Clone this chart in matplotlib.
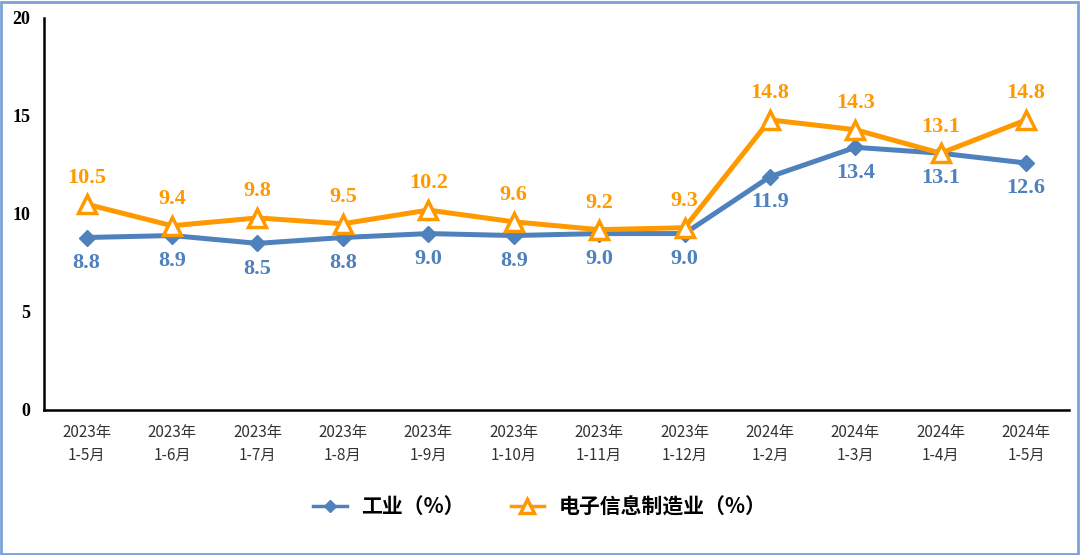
import matplotlib.pyplot as plt
from matplotlib.patches import Rectangle

plt.rcParams['font.family'] = ['Noto Sans CJK SC', 'DejaVu Sans']

CATEGORIES = ['2023年\n1-5月', '2023年\n1-6月', '2023年\n1-7月', '2023年\n1-8月',
              '2023年\n1-9月', '2023年\n1-10月', '2023年\n1-11月', '2023年\n1-12月',
              '2024年\n1-2月', '2024年\n1-3月', '2024年\n1-4月', '2024年\n1-5月']
INDUSTRY = [8.8, 8.9, 8.5, 8.8, 9.0, 8.9, 9.0, 9.0, 11.9, 13.4, 13.1, 12.6]
ELECTRONICS = [10.5, 9.4, 9.8, 9.5, 10.2, 9.6, 9.2, 9.3, 14.8, 14.3, 13.1, 14.8]
Y_TICKS = [0, 5, 10, 15, 20]

BLUE = '#4F81BD'
ORANGE = '#FF9900'
NUM_FONT = 'Liberation Serif'

fig = plt.figure(figsize=(10.8, 5.55), dpi=100)
ax = fig.add_axes([0.0407, 0.2613, 0.949, 0.7063])

x = list(range(len(CATEGORIES)))
ax.plot(x, INDUSTRY, color=BLUE, linewidth=3.6, marker='D', markersize=8,
        markerfacecolor=BLUE, markeredgecolor=BLUE, label='工业（%）', zorder=3)
ax.plot(x, ELECTRONICS, color=ORANGE, linewidth=3.6, marker='^', markersize=13,
        markerfacecolor='white', markeredgecolor=ORANGE, markeredgewidth=2.5,
        label='电子信息制造业（%）', zorder=4)

for i, v in enumerate(INDUSTRY):
    ax.annotate(f'{v:.1f}', (i, v), xytext=(0, -11), textcoords='offset points',
                ha='center', va='top', color=BLUE, fontsize=16, fontweight='bold',
                family=NUM_FONT)
for i, v in enumerate(ELECTRONICS):
    ax.annotate(f'{v:.1f}', (i, v), xytext=(0, 12), textcoords='offset points',
                ha='center', va='bottom', color=ORANGE, fontsize=16, fontweight='bold',
                family=NUM_FONT)

ax.set_xlim(-0.5, len(CATEGORIES) - 0.5)
ax.set_ylim(0, 20)
ax.set_yticks(Y_TICKS)
ax.set_yticklabels([str(t) for t in Y_TICKS], family=NUM_FONT, fontsize=13,
                   fontweight='bold')
ax.set_xticks(x)
ax.set_xticklabels(CATEGORIES, fontsize=11, color='#333333', linespacing=1.45)
ax.tick_params(axis='both', length=0)
ax.tick_params(axis='x', pad=10)
ax.tick_params(axis='y', pad=10)

for side in ['top', 'right']:
    ax.spines[side].set_visible(False)
for side in ['left', 'bottom']:
    ax.spines[side].set_linewidth(1.8)
    ax.spines[side].set_color('black')

leg = fig.legend(loc='center', bbox_to_anchor=(0.5, 0.087), ncol=2, frameon=False,
                 handlelength=1.6, columnspacing=2.2, handletextpad=0.7,
                 markerscale=0.75, prop={'size': 15, 'weight': 'bold'})
for line in leg.get_lines():
    line.set_linewidth(2.5)

fig.patches.append(Rectangle((0.001, 0.002), 0.997, 0.995, transform=fig.transFigure,
                             fill=False, edgecolor='#7BA3D6', linewidth=2))

fig.savefig('out.png', dpi=100)
